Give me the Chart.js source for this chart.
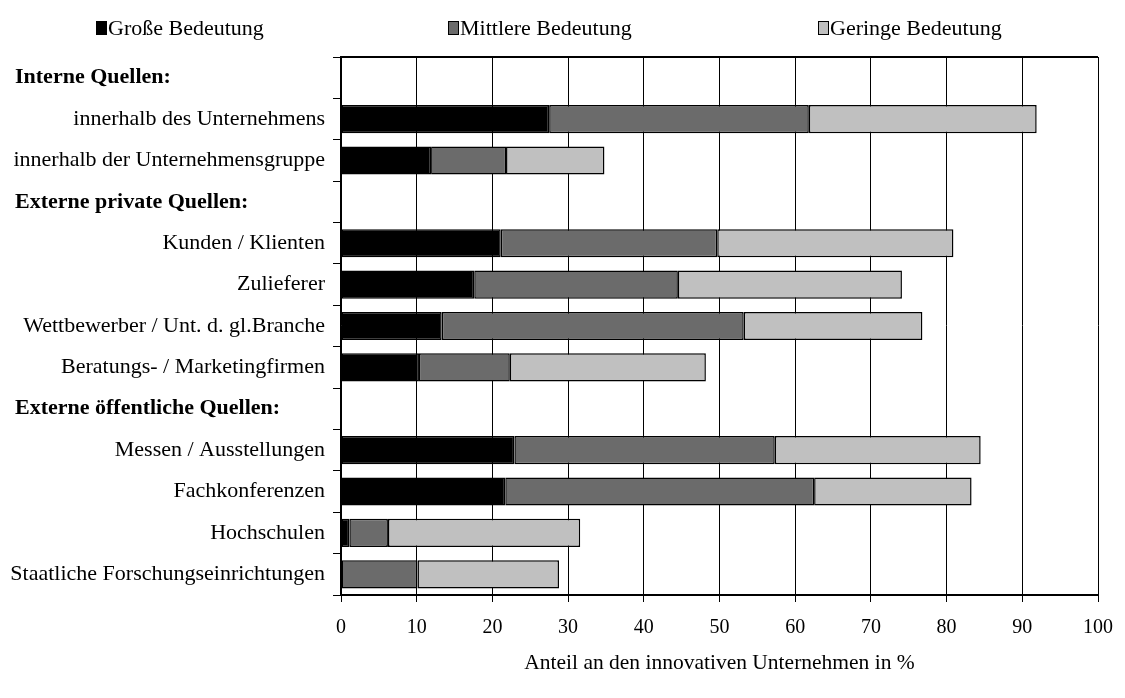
<!DOCTYPE html>
<html>
<head>
<meta charset="utf-8">
<script src="https://cdn.jsdelivr.net/npm/chart.js@4.4.1/dist/chart.umd.min.js"></script>
<style>
html,body{margin:0;padding:0;background:#fff;}
#wrap{width:1125px;height:698px;}
</style>
</head>
<body>
<div id="wrap"><canvas id="c" width="1125" height="698"></canvas></div>
<script>
// ---- data ----
const categories = [
  'Interne Quellen:',
  'innerhalb des Unternehmens',
  'innerhalb der Unternehmensgruppe',
  'Externe private Quellen:',
  'Kunden / Klienten',
  'Zulieferer',
  'Wettbewerber / Unt. d. gl.Branche',
  'Beratungs- / Marketingfirmen',
  'Externe öffentliche Quellen:',
  'Messen / Ausstellungen',
  'Fachkonferenzen',
  'Hochschulen',
  'Staatliche Forschungseinrichtungen'
];
const groupHeaders = ['Interne Quellen:', 'Externe private Quellen:', 'Externe öffentliche Quellen:'];
const seriesNames = ['Große Bedeutung', 'Mittlere Bedeutung', 'Geringe Bedeutung'];
const grosse   = [null, 27.5, 11.9, null, 21.1, 17.6, 13.3, 10.3, null, 22.9, 21.7, 1.1, 0];
const mittlere = [null, 34.3,  9.9, null, 28.6, 26.9, 39.9, 12.0, null, 34.4, 40.8, 5.1, 10.1];
const geringe  = [null, 30.1, 13.0, null, 31.2, 29.6, 23.6, 25.9, null, 27.2, 20.8, 25.4, 18.7];
const xTicks = [0, 10, 20, 30, 40, 50, 60, 70, 80, 90, 100];
const xTitle = 'Anteil an den innovativen Unternehmen in %';

const FONT = '"Liberation Serif", "Times New Roman", serif';
Chart.defaults.font.family = FONT;
Chart.defaults.color = '#000';

const colors = ['#000000', '#6b6b6b', '#c0c0c0'];

const headerPlugin = {
  id: 'headers',
  afterDraw(chart) {
    const ctx = chart.ctx;
    const y = chart.scales.y;
    ctx.save();
    ctx.font = 'bold 22px ' + FONT;
    ctx.fillStyle = '#000';
    ctx.textAlign = 'left';
    ctx.textBaseline = 'middle';
    categories.forEach((c, i) => {
      if (groupHeaders.includes(c)) {
        ctx.fillText(c, 15, y.getPixelForValue(i));
      }
    });
    // chart area frame (top)
    const a = chart.chartArea;
    ctx.strokeStyle = '#000';
    ctx.lineWidth = 2;
    ctx.beginPath();
    ctx.moveTo(a.left, a.top);
    ctx.lineTo(a.right, a.top);
    ctx.stroke();
    // legend
    const lx = [96, 448, 818];
    ctx.font = '22px ' + FONT;
    chart.data.datasets.forEach((ds, i) => {
      const x = lx[i], cy = 28;
      ctx.fillStyle = ds.backgroundColor;
      ctx.fillRect(x, cy - 7, 11, 14);
      ctx.lineWidth = 1;
      ctx.strokeStyle = '#000';
      ctx.strokeRect(x + 0.5, cy - 6.5, 10, 13);
      ctx.fillStyle = '#000';
      ctx.textAlign = 'left';
      ctx.textBaseline = 'middle';
      ctx.fillText(ds.label, x + 12, cy + 1);
    });
    ctx.restore();
  }
};

new Chart(document.getElementById('c'), {
  type: 'bar',
  data: {
    labels: categories,
    datasets: [
      { label: seriesNames[0], data: grosse, backgroundColor: colors[0] },
      { label: seriesNames[1], data: mittlere, backgroundColor: colors[1] },
      { label: seriesNames[2], data: geringe, backgroundColor: colors[2] }
    ].map(d => Object.assign(d, {
      borderColor: '#000', borderWidth: 1.5, borderSkipped: false,
      barPercentage: 0.68, categoryPercentage: 1.0
    }))
  },
  options: {
    indexAxis: 'y',
    responsive: false,
    animation: false,
    layout: { padding: { left: 0, top: 57, right: 27, bottom: 0 } },
    plugins: { legend: { display: false }, tooltip: { enabled: false } },
    scales: {
      x: {
        stacked: true,
        min: 0, max: 100,
        afterBuildTicks(s) { s.ticks = xTicks.map(v => ({ value: v })); },
        afterFit(s) { s.height = 103; s.paddingLeft = 0; s.paddingRight = 0; },
        ticks: { font: { size: 20 }, padding: 14, color: '#000' },
        grid: { color: '#000', lineWidth: 1, tickLength: 7, tickColor: '#000' },
        border: { color: '#000', width: 2 },
        title: { display: true, text: xTitle, font: { size: 21.5 }, color: '#000', padding: { top: 0, bottom: 22 } }
      },
      y: {
        stacked: true,
        afterFit(s) { s.width = 341; },
        ticks: {
          font: { size: 22 }, padding: 8, color: '#000',
          callback(v, i) { const c = categories[i]; return groupHeaders.includes(c) ? '' : c; }
        },
        grid: { offset: true, drawOnChartArea: false, tickLength: 8, color: '#000', tickColor: '#000' },
        border: { color: '#000', width: 1.5 }
      }
    }
  },
  plugins: [headerPlugin]
});
</script>
</body>
</html>
